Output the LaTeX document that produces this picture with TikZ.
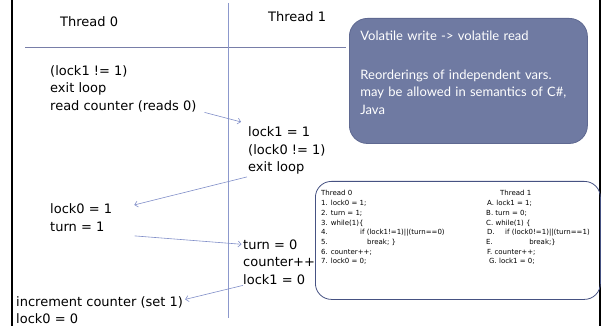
\documentclass[tikz,border=0pt]{standalone}
\usepackage{fontspec}
\setmainfont{DejaVu Sans}
\newfontfamily\notefont{Lato}
\usetikzlibrary{arrows.meta,positioning}

\definecolor{rulegray}{RGB}{120,126,168}
\definecolor{timeline}{RGB}{140,152,204}
\definecolor{flowblue}{RGB}{128,142,200}
\definecolor{notefill}{RGB}{111,122,162}
\definecolor{noteedge}{RGB}{95,105,145}
\definecolor{codeedge}{RGB}{70,82,130}

\tikzset{
  stmt/.style={anchor=base west, inner sep=0pt, font=\fontsize{13}{15.6}\selectfont},
  codeln/.style={anchor=base west, inner sep=0pt, font=\fontsize{7}{8.4}\selectfont},
  flow/.style={-{Straight Barb[length=3pt,width=6pt]}, draw=flowblue, line width=0.6pt},
  note/.style={anchor=north west, rounded corners=18pt, fill=notefill, draw=noteedge,
    line width=0.8pt, text=white, text width=216pt, inner xsep=11pt, inner ysep=13pt,
    align=left, text depth=89.5pt, font=\notefont\fontsize{13}{17.5}\selectfont},
  codebox/.style={anchor=north west, draw=codeedge, rounded corners=16pt, line width=0.8pt,
    minimum width=285pt, minimum height=118pt, inner sep=0pt},
}

\begin{document}
\begin{tikzpicture}[x=1pt,y=-1pt]
  \useasboundingbox (0,0) rectangle (603,326);
  % frame edges
  \draw[line width=2pt] (11.5,0) -- (11.5,326);
  \draw[line width=2pt] (600,0) -- (600,326);

  % headers and timeline
  \node[stmt] (th0) at (60,27) {Thread 0};
  \node[stmt] (th1) at (268,21.5) {Thread 1};
  \draw[rulegray, line width=0.8pt] (25,47) -- (346,47);
  \draw[timeline, line width=0.7pt] (228,3) -- (228,318);

  % note box
  \node[note] (note) at (349,18) {Volatile write -> volatile read\\[21pt]
    Reorderings of independent vars.\\ may be allowed in semantics of C\#,\\ Java};

  % thread 0 steps
  \node[stmt] (t0a) at (50,75.5) {(lock1 != 1)};
  \node[stmt] (t0b) at (50,93) {exit loop};
  \node[stmt] (t0c) at (50,110.5) {read counter (reads 0)};
  \node[stmt] (t0d) at (50,213.5) {lock0 = 1};
  \node[stmt] (t0e) at (50,231.5) {turn = 1};
  \node[stmt] (t0f) at (16,306.5) {increment counter (set 1)};
  \node[stmt] (t0g) at (16,323.5) {lock0 = 0};

  % thread 1 steps
  \node[stmt] (t1a) at (248,137) {lock1 = 1};
  \node[stmt] (t1b) at (248,154.5) {(lock0 != 1)};
  \node[stmt] (t1c) at (248,172) {exit loop};
  \node[stmt] (t1d) at (243,249) {turn = 0};
  \node[stmt] (t1e) at (243,266.5) {counter++};
  \node[stmt] (t1f) at (243,284) {lock1 = 0};

  % interleaving
  \draw[flow] ([xshift=8pt]t0c.south east) -- ([xshift=-7pt,yshift=5pt]t1a.north west);
  \draw[flow] ([xshift=-1pt,yshift=-2pt]t1c.south west) -- ([xshift=22pt,yshift=-1.5pt]t0d.north east);
  \draw[flow] ([xshift=30pt,yshift=-4pt]t0e.south east) -- ([xshift=-1.5pt]t1d.west);
  \draw[flow] ([yshift=-1pt]t1f.south west) -- ([xshift=2pt,yshift=3pt]t0f.east);

  % code listing
  \node[codebox] (code) at (315,181) {};
  \foreach \i/\x/\txt in {0/321/{Thread 0}, 1/321/{1. lock0 = 1;}, 2/321/{2. turn = 1;},
      3/321/{3. while(1)\{}, 4/321/{4.\hspace{32.3pt}if (lock1!=1)||(turn==0)},
      5/321/{5.\hspace{39.3pt}break; \}}, 6/321/{6. counter++;}, 7/321/{7. lock0 = 0;}}
    \node[codeln] (l\i) at (\x,196+9.7*\i) {\txt};
  \foreach \i/\x/\txt in {0/500/{Thread 1}, 1/487/{A. lock1 = 1;}, 2/486/{B. turn = 0;},
      3/486/{C. while(1) \{}, 4/487/{D.\hspace{10.4pt}if (lock0!=1)||(turn==1)},
      5/486/{E.\hspace{36.4pt}break;\}}, 6/487/{F. counter++;}, 7/489/{G. lock1 = 0;}}
    \node[codeln] (r\i) at (\x,196+9.7*\i) {\txt};
\end{tikzpicture}
\end{document}
